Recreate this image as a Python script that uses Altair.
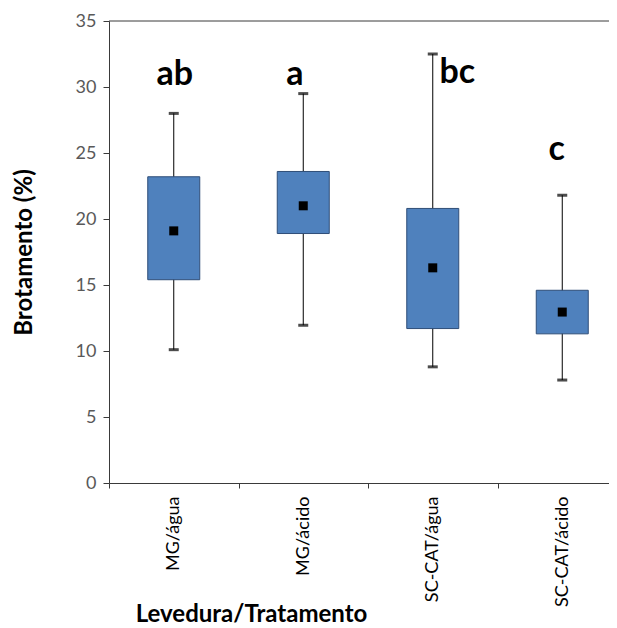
import altair as alt
import pandas as pd

categories = ["MG/água", "MG/ácido", "SC-CAT/água", "SC-CAT/ácido"]
whisker_max = [28.0, 29.5, 32.5, 21.8]
q3 = [23.2, 23.6, 20.8, 14.6]
means = [19.1, 21.0, 16.3, 12.95]
q1 = [15.4, 18.9, 11.7, 11.3]
whisker_min = [10.1, 11.95, 8.8, 7.8]
letters = ["ab", "a", "bc", "c"]
letter_y = [30.15, 30.15, 30.3, 24.5]
letter_dx = [1, -8.5, 24.5, -5.5]

y_ticks = [0, 5, 10, 15, 20, 25, 30, 35]

df = pd.DataFrame({
    "cat": categories,
    "hi": whisker_max,
    "q3": q3,
    "mean": means,
    "q1": q1,
    "lo": whisker_min,
})

FONT = "Lato"
AXIS_COLOR = "#3a3a3a"
PLOT_W = 500
BAND_RANGE = 518
PLOT_H = 462

x_enc = alt.X(
    "cat:N",
    sort=categories,
    scale=alt.Scale(domain=categories, range=[0, BAND_RANGE], paddingInner=0, paddingOuter=0),
    axis=alt.Axis(
        title="Levedura/Tratamento",
        labelAngle=270,
        tickBand="extent",
        tickSize=5,
        labelPadding=8,
        labelFont=FONT,
        labelFontSize=18,
        labelColor="black",
        domainColor=AXIS_COLOR,
        tickColor=AXIS_COLOR,
        titleFont=FONT,
        titleFontSize=24,
        titleFontWeight="bold",
        titleColor="black",
        titleX=142,
        titleY=138,
        titleAlign="center",
        titleBaseline="alphabetic",
        grid=False,
    ),
)

y_scale = alt.Scale(domain=[0, 35], nice=False, zero=True)
y_axis = alt.Axis(
    values=y_ticks,
    tickSize=6,
    labelPadding=7,
    labelFont=FONT,
    labelFontSize=18,
    labelColor="#595959",
    domainColor=AXIS_COLOR,
    tickColor=AXIS_COLOR,
    grid=False,
    titleFont=FONT,
    titleFontSize=24,
    titleFontWeight="bold",
    titleColor="black",
    titleX=-85,
    titleY=PLOT_H / 2,
    titleAngle=270,
    titleAlign="center",
    titleBaseline="middle",
)


def yenc(field):
    return alt.Y(f"{field}:Q", scale=y_scale, axis=y_axis, title="Brotamento (%)")


base = alt.Chart(df).encode(x=x_enc)

whisker = base.mark_rule(color="black", strokeWidth=1).encode(y=yenc("lo"), y2="hi:Q")
box = base.mark_bar(size=52, color="#4F81BD", stroke="#2F4E78", strokeWidth=1).encode(
    y=yenc("q1"), y2="q3:Q"
)
cap_hi = base.mark_tick(color="black", size=10, thickness=3, orient="horizontal").encode(y=yenc("hi"))
cap_lo = base.mark_tick(color="black", size=10, thickness=3, orient="horizontal").encode(y=yenc("lo"))
mean_pt = base.mark_square(size=81, color="black", opacity=1).encode(y=yenc("mean"))

top_line = alt.Chart(pd.DataFrame({"v": [35]})).mark_rule(color=AXIS_COLOR, strokeWidth=1).encode(
    y=yenc("v"), x=alt.value(0), x2=alt.value(BAND_RANGE)
)

text_layers = []
for c, l, ly, dx in zip(categories, letters, letter_y, letter_dx):
    t = alt.Chart(pd.DataFrame({"cat": [c], "lbl": [l], "ly": [ly]})).mark_text(
        dx=dx, font=FONT, fontSize=34, fontWeight="bold", color="black",
        align="center", baseline="alphabetic"
    ).encode(x=x_enc, y=yenc("ly"), text="lbl:N")
    text_layers.append(t)

chart = alt.layer(whisker, box, cap_hi, cap_lo, mean_pt, top_line, *text_layers).properties(
    width=PLOT_W,
    height=PLOT_H,
    padding={"left": 101, "top": 13, "right": 0, "bottom": 142},
    autosize=alt.AutoSizeParams(type="none"),
).configure_view(stroke=None)

chart.save("out.html", embed_options={"renderer": "svg", "actions": False})
